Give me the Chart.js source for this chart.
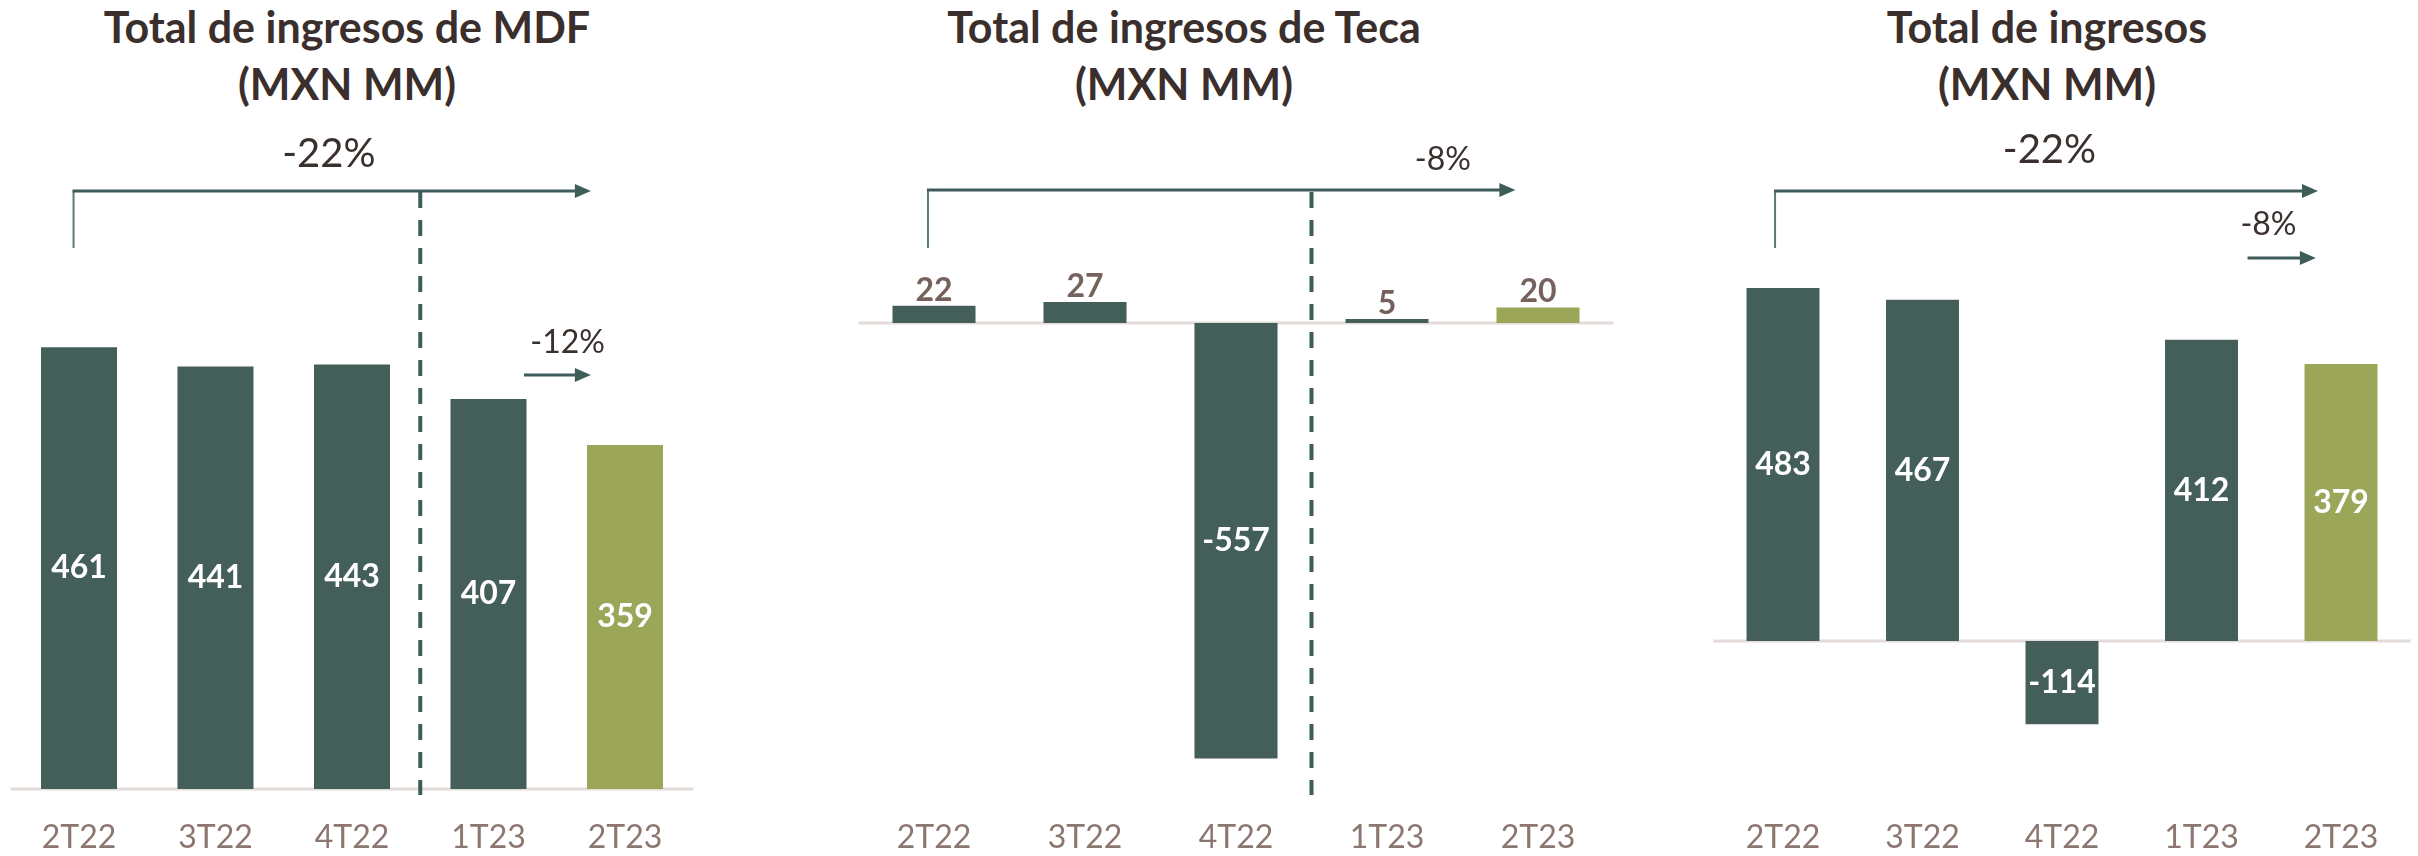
<!DOCTYPE html>
<html>
<head>
<meta charset="utf-8">
<script src="https://cdn.jsdelivr.net/npm/chart.js@4.4.0/dist/chart.umd.min.js"></script>
<style>
  body { margin: 0; width: 2418px; height: 856px; background: #fff; position: relative; overflow: hidden; }
  canvas { position: absolute; top: 0; }
  .title { position: absolute; top: -2px; width: 800px; text-align: center; font: bold 43px/57px Lato, sans-serif; color: #3a2f2d; }
</style>
</head>
<body>
<div class="title" style="left:-53px">Total de ingresos de MDF<br>(MXN MM)</div>
<div class="title" style="left:784px">Total de ingresos de Teca<br>(MXN MM)</div>
<div class="title" style="left:1647px">Total de ingresos<br>(MXN MM)</div>
<canvas id="c1" width="806" height="856" style="left:0px"></canvas>
<canvas id="c2" width="860" height="856" style="left:760px"></canvas>
<canvas id="c3" width="778" height="856" style="left:1640px"></canvas>
<script>
// datos
const quarters = ["2T22", "3T22", "4T22", "1T23", "2T23"];
const mdfValues = [461, 441, 443, 407, 359];
const tecaValues = [22, 27, -557, 5, 20];
const totalValues = [483, 467, -114, 412, 379];

const TEAL = "#445f5a";
const OLIVE = "#9ca659";
const ARROW = "#3f5d58";
const FONT = "Lato, sans-serif";

function barColors(values) {
    return values.map((_, i) => (i === values.length - 1 ? OLIVE : TEAL));
}

function arrow(ctx, x1, x2, y) {
    ctx.strokeStyle = ARROW;
    ctx.fillStyle = ARROW;
    ctx.lineWidth = 3;
    ctx.beginPath();
    ctx.moveTo(x1, y);
    ctx.lineTo(x2 - 14, y);
    ctx.stroke();
    ctx.beginPath();
    ctx.moveTo(x2, y);
    ctx.lineTo(x2 - 16, y - 7);
    ctx.lineTo(x2 - 16, y + 7);
    ctx.closePath();
    ctx.fill();
}

// linea de cero, etiquetas, flechas y separador
const notesPlugin = {
    id: "notes",
    beforeDatasetsDraw(chart) {
        const { ctx, chartArea, scales } = chart;
        const y0 = scales.y.getPixelForValue(0);
        ctx.save();
        ctx.strokeStyle = "#e4dcd9";
        ctx.lineWidth = 3;
        ctx.beginPath();
        ctx.moveTo(chartArea.left, y0);
        ctx.lineTo(chartArea.right, y0);
        ctx.stroke();
        ctx.restore();
    },
    afterDatasetsDraw(chart, args, opts) {
        const { ctx, scales } = chart;
        const x = scales.x;
        const values = chart.data.datasets[0].data;
        ctx.save();
        ctx.textAlign = "center";
        chart.getDatasetMeta(0).data.forEach((bar, i) => {
            const v = values[i];
            ctx.font = "bold 32px " + FONT;
            if (opts.labelOutside && v >= 0) {
                ctx.fillStyle = "#76625c";
                ctx.textBaseline = "alphabetic";
                ctx.fillText(String(v), bar.x, bar.y - 5);
            } else {
                ctx.fillStyle = "#ffffff";
                ctx.textBaseline = "middle";
                ctx.fillText(String(v), bar.x, (bar.y + bar.base) / 2);
            }
        });

        if (opts.divider) {
            const dx = x.getPixelForValue(opts.divider.at);
            ctx.strokeStyle = ARROW;
            ctx.lineWidth = 4;
            ctx.setLineDash([16, 12]);
            ctx.beginPath();
            ctx.moveTo(dx, opts.divider.top);
            ctx.lineTo(dx, opts.divider.bottom);
            ctx.stroke();
            ctx.setLineDash([]);
        }

        if (opts.bracket) {
            const b = opts.bracket;
            const bx = x.getPixelForValue(b.from);
            ctx.strokeStyle = "#5b7c76";
            ctx.lineWidth = 2;
            ctx.beginPath();
            ctx.moveTo(bx, b.drop);
            ctx.lineTo(bx, b.y);
            ctx.stroke();
            arrow(ctx, bx - 1, x.getPixelForValue(b.to), b.y);
        }

        if (opts.small) {
            arrow(ctx, x.getPixelForValue(opts.small.from), x.getPixelForValue(opts.small.to), opts.small.y);
        }

        (opts.texts || []).forEach(t => {
            ctx.fillStyle = "#3a302e";
            ctx.font = t.size + "px " + FONT;
            ctx.textBaseline = "alphabetic";
            ctx.fillText(t.text, x.getPixelForValue(t.at), t.y);
        });
        ctx.restore();
    }
};

function makeChart(id, values, cfg) {
    return new Chart(document.getElementById(id), {
        type: "bar",
        data: {
            labels: quarters,
            datasets: [{
                data: values,
                backgroundColor: barColors(values),
                barPercentage: cfg.barPct,
                categoryPercentage: 1
            }]
        },
        options: {
            responsive: false,
            animation: false,
            layout: { padding: { top: 250, bottom: 0, left: cfg.left, right: cfg.right } },
            plugins: {
                legend: { display: false },
                tooltip: { enabled: false },
                notes: cfg.notes
            },
            scales: {
                x: {
                    grid: { display: false, drawTicks: false },
                    border: { display: false },
                    ticks: { color: "#8c7670", font: { family: FONT, size: 32 }, padding: 18 },
                    afterFit: s => { s.height = 56; }
                },
                y: { display: false, min: cfg.min, max: cfg.max }
            }
        },
        plugins: [notesPlugin]
    });
}

makeChart("c1", mdfValues, {
    left: 10.75, right: 112.75, min: -11.5, max: 562.6, barPct: 0.557,
    notes: {
        bracket: { from: -0.04, to: 3.75, y: 191, drop: 248 },
        divider: { at: 2.5, top: 192, bottom: 795 },
        small: { from: 3.26, to: 3.75, y: 375 },
        texts: [
            { text: "-22%", at: 1.83, y: 167, size: 40 },
            { text: "-12%", at: 3.58, y: 353, size: 32 }
        ]
    }
});

makeChart("c2", tecaValues, {
    left: 98.5, right: 6.5, min: -610, max: 93.4, barPct: 0.55,
    notes: {
        labelOutside: true,
        bracket: { from: -0.04, to: 3.85, y: 190, drop: 248 },
        divider: { at: 2.5, top: 192, bottom: 795 },
        texts: [{ text: "-8%", at: 3.37, y: 170, size: 32 }]
    }
});

makeChart("c3", totalValues, {
    left: 73.25, right: 7.25, min: -217.5, max: 534.9, barPct: 0.523,
    notes: {
        bracket: { from: -0.057, to: 3.835, y: 191, drop: 248 },
        small: { from: 3.33, to: 3.82, y: 258 },
        texts: [
            { text: "-22%", at: 1.91, y: 163, size: 40 },
            { text: "-8%", at: 3.48, y: 235, size: 32 }
        ]
    }
});
</script>
</body>
</html>
